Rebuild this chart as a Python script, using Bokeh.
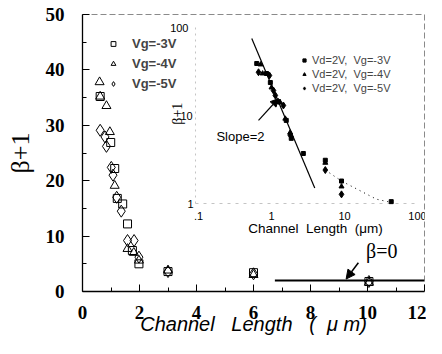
from bokeh.plotting import figure
from bokeh.models import (Range1d, LogScale, Legend, LegendItem, Label, Arrow,
                          NormalHead, FixedTicker, ColumnDataSource)
from bokeh.embed import file_html
from bokeh.resources import INLINE
from bokeh.core.properties import value

# ---------------- main plot data (linear) ----------------
sq_L = [0.62, 0.99, 1.13, 1.22, 1.41, 1.58, 1.75, 1.98, 3.0, 6.0, 10.05]
sq_y = [35.2, 26.9, 22.2, 16.8, 15.8, 12.2, 7.4, 5.0, 3.6, 3.4, 1.8]
tri_L = [0.60, 0.62, 0.84, 0.96, 1.13, 1.58, 1.80, 1.98, 3.0, 6.0, 10.05]
tri_y = [37.8, 35.2, 33.5, 28.8, 19.1, 7.7, 7.0, 5.6, 3.8, 3.0, 1.6]
dia_L = [0.62, 0.79, 0.84, 1.01, 1.07, 1.20, 1.36, 1.58, 1.81, 1.98, 3.0, 6.0, 10.05]
dia_y = [29.1, 27.9, 26.2, 22.4, 21.0, 17.0, 14.5, 9.2, 9.2, 6.2, 3.6, 3.2, 1.8]

beta0_x = [6.75, 12.0]
beta0_y = [2.0, 2.0]

x_ticks = [0, 2, 4, 6, 8, 10, 12]
x_minor = [1, 3, 5, 7, 9, 11]
y_ticks = [0, 10, 20, 30, 40, 50]
y_minor = [5, 15, 25, 35, 45]

# ---------------- inset data (log-log) ----------------
isq_L = [0.69, 0.94, 1.06, 1.37, 1.75, 2.05, 3.0, 6.0, 10.0, 48.0]
isq_y = [39.0, 30.0, 23.7, 14.4, 8.8, 5.5, 3.7, 3.1, 1.8, 1.05]
itri_L = [0.78, 0.83, 1.10, 1.45, 1.70, 1.98, 6.0, 10.0]
itri_y = [38.0, 30.0, 20.8, 14.0, 9.2, 6.4, 2.9, 1.56]
idia_L = [0.73, 1.03, 1.17, 1.24, 1.60, 1.98, 6.0, 10.0]
idia_y = [31.0, 28.5, 19.2, 16.9, 13.0, 6.0, 2.4, 1.27]

slope_L = [0.59, 4.3]
slope_y = [75.0, 1.5]
tail_L = [6.0, 10.0, 30.0, 48.0]
tail_y = [2.4, 1.8, 1.12, 1.03]

inset_xticks = [0.1, 1, 10, 100]
inset_xlabels = [".1", "1", "10", "100"]
inset_yticks = [1, 10, 100]
inset_ylabels = ["1", "10", "100"]

# ---------------- layout geometry (canvas pixels) ----------------
W, H = 426, 338
FL, FR, FT, FB = 82, 424, 14, 291          # frame edges
IX1, IXD = 268, 73                          # inset: L=1 at x, px per decade
IY1, IYD = 203, 88                          # inset: beta+1=1 at y, px per decade
NB = "\u00a0"

p = figure(width=W, height=H, output_backend="svg", toolbar_location=None,
           x_range=Range1d(0, 12), y_range=Range1d(0, 50),
           min_border_left=FL, min_border_right=W - FR, min_border_top=FT,
           min_border_bottom=H - FB)
p.background_fill_color = "white"
p.border_fill_color = "white"
p.grid.visible = False
p.outline_line_color = "#8a8a8a"
p.outline_line_dash = "6 3"
p.outline_line_width = 1

serif = "Liberation Serif"
sans = "Liberation Sans"

p.xaxis.ticker = FixedTicker(ticks=x_ticks, minor_ticks=x_minor)
p.yaxis.ticker = FixedTicker(ticks=y_ticks, minor_ticks=y_minor)
for ax in (p.xaxis, p.yaxis):
    ax.axis_line_color = "black"
    ax.axis_line_width = 1.3
    ax.major_tick_in = 7
    ax.major_tick_out = 0
    ax.minor_tick_in = 4
    ax.minor_tick_out = 0
    ax.major_tick_line_color = "black"
    ax.minor_tick_line_color = "black"
    ax.major_label_text_font = serif
    ax.major_label_text_font_size = "19px"
    ax.major_label_text_font_style = "bold"
    ax.major_label_text_color = "black"

p.xaxis.major_label_standoff = 14
p.yaxis.major_label_standoff = 18
p.xaxis.axis_label = ("Channel" + NB * 3 + "Length" + NB * 3 + "(" + NB * 2 +
                      "\u03bc" + NB + "m)")
p.xaxis.axis_label_text_font = sans
p.xaxis.axis_label_text_font_style = "italic"
p.xaxis.axis_label_text_font_size = "20px"
p.xaxis.axis_label_text_color = "black"
p.xaxis.axis_label_standoff = -9
p.yaxis.axis_label = "\u03b2+1"
p.yaxis.axis_label_text_font = serif
p.yaxis.axis_label_text_font_style = "normal"
p.yaxis.axis_label_text_font_size = "26px"
p.yaxis.axis_label_text_color = "black"
p.yaxis.axis_label_standoff = 8

# inset coordinate system: log ranges spread over the same frame
lx0, lx1 = 10 ** ((FL - IX1) / IXD), 10 ** ((FR - IX1) / IXD)
ly0, ly1 = 10 ** ((IY1 - FB) / IYD), 10 ** ((IY1 - FT) / IYD)
p.extra_x_ranges = {"lx": Range1d(lx0, lx1)}
p.extra_y_ranges = {"ly": Range1d(ly0, ly1)}
p.extra_x_scales = {"lx": LogScale()}
p.extra_y_scales = {"ly": LogScale()}

# ---------------- main data ----------------
r_sq = p.scatter(sq_L, sq_y, marker="square", size=8, fill_color=None,
                 line_color="black", line_width=1)
r_tri = p.scatter(tri_L, tri_y, marker="triangle", size=9, fill_color=None,
                  line_color="black", line_width=1)
r_dia = p.scatter(dia_L, dia_y, marker="diamond", size=12, fill_color=None,
                  line_color="black", line_width=1)

p.line(beta0_x, beta0_y, line_color="black", line_width=2)
p.add_layout(Arrow(end=NormalHead(size=9, fill_color="black", line_color="black"),
                   x_start=9.68, y_start=5.2, x_end=9.25, y_end=2.25,
                   line_color="black", line_width=1.5))
p.add_layout(Label(x=10.5, y=7.4, text="\u03b2=0", text_font=serif,
                   text_font_size="20px", text_align="center",
                   text_baseline="middle", text_color="black"))

leg1 = Legend(items=[LegendItem(label="Vg=-3V", renderers=[r_sq]),
                     LegendItem(label="Vg=-4V", renderers=[r_tri]),
                     LegendItem(label="Vg=-5V", renderers=[r_dia])],
              location=(25, 198), margin=0, padding=0, spacing=1,
              glyph_width=12, glyph_height=19, label_height=19,
              label_standoff=13, label_text_font=sans,
              label_text_font_style="bold", label_text_font_size="13px",
              border_line_color=None, background_fill_alpha=0)
p.add_layout(leg1)

# ---------------- inset ----------------
kw = dict(x_range_name="lx", y_range_name="ly")
p.line([0.1, 0.1], [1, 100], line_color="#c4c4c4", line_dash="2 4", **kw)
p.line([0.1, 100], [1, 1], line_color="#c4c4c4", line_dash="3 5", **kw)

p.line(slope_L, slope_y, line_color="black", line_width=1.2, **kw)
p.line(tail_L, tail_y, line_color="black", line_width=1, line_dash="1 4", **kw)

ri_sq = p.scatter(isq_L, isq_y, marker="square", size=4, color="black", **kw)
ri_tri = p.scatter(itri_L, itri_y, marker="triangle", size=5, color="black", **kw)
ri_dia = p.scatter(idia_L, idia_y, marker="diamond", size=7, color="black", **kw)

p.add_layout(Arrow(end=NormalHead(size=8, fill_color="black", line_color="black"),
                   x_start=0.73, y_start=8.8, x_end=1.37, y_end=15.6,
                   line_color="black", line_width=1.2, **kw))

src_xl = ColumnDataSource(dict(x=inset_xticks, y=[1] * len(inset_xticks),
                               t=inset_xlabels))
p.text(x="x", y="y", text="t", source=src_xl, text_font=value(sans),
       text_font_size="11px", text_align="center", text_baseline="middle",
       x_offset=3, y_offset=12, text_color="black", **kw)

# inset y tick labels, set just left of the inset's left edge
y_label_x = [0.1, 0.1, 0.06]
y_label_dx = [-5, -9, 0]
for xv, yv, txt, dx in zip(y_label_x, inset_yticks, inset_ylabels, y_label_dx):
    p.add_layout(Label(x=xv, y=yv, x_offset=dx, text=txt, text_font=sans,
                       text_font_size="11px", text_align="center",
                       text_baseline="middle", text_color="black", **kw))

p.text(x=[4.4], y=[1], text=["Channel" + NB * 2 + "Length" + NB * 2 + "(\u03bcm)"],
       text_font=value(sans),
       text_font_size="13.5px", text_align="center", text_baseline="middle",
       y_offset=25, text_color="black", **kw)
p.text(x=[0.0567], y=[10.5], text=["\u03b2+1"], text_font=value(serif),
       text_font_size="14px", text_align="center", text_baseline="middle",
       angle=1.5708, text_color="black", **kw)
p.text(x=[0.413], y=[5.8], text=["Slope=2"], text_font=value(sans),
       text_font_size="13px", text_align="center", text_baseline="middle",
       text_color="black", **kw)

leg2 = Legend(items=[LegendItem(label="Vd=2V," + NB + " Vg=-3V", renderers=[ri_sq]),
                     LegendItem(label="Vd=2V," + NB + " Vg=-4V", renderers=[ri_tri]),
                     LegendItem(label="Vd=2V," + NB + " Vg=-5V", renderers=[ri_dia])],
              location=(218, 196), margin=0, padding=0, spacing=0,
              glyph_width=8, glyph_height=14, label_height=14,
              label_standoff=4, label_text_font=sans,
              label_text_font_size="11px",
              border_line_color=None, background_fill_alpha=0)
p.add_layout(leg2)

open("out.html", "w").write(file_html(p, INLINE))
